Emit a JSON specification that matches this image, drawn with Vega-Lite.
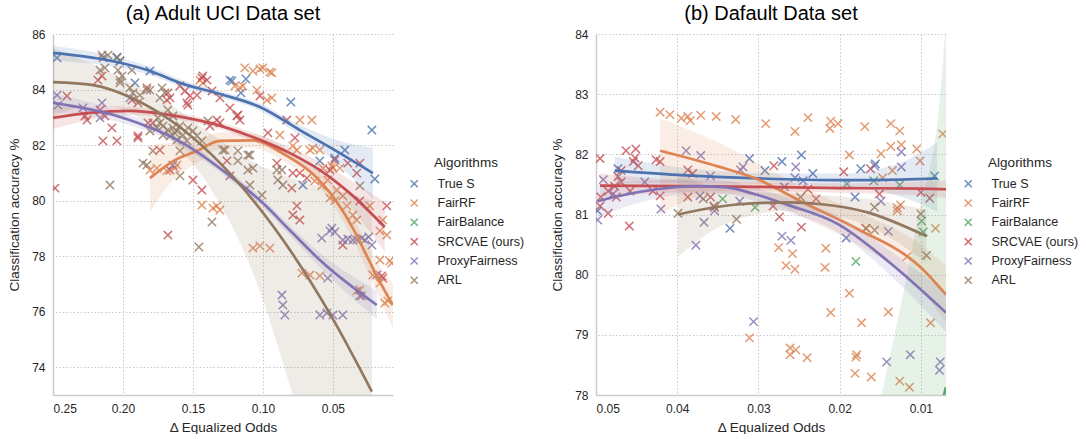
{
  "$schema": "https://vega.github.io/schema/vega-lite/v6.json",
  "padding": {"left": 7, "top": 4, "right": 0, "bottom": 0},
  "spacing": 25,
  "config": {
    "view": {"stroke": null},
    "font": "Liberation Sans",
    "axis": {"labelFont": "Liberation Sans", "labelFontSize": 12, "labelColor": "#262626", "titleFont": "Liberation Sans", "titleFontSize": 13.5, "titleFontWeight": "normal", "titleColor": "#262626", "ticks": false, "domainColor": "#cccccc", "domainWidth": 1.5, "gridColor": "#c8c8c8", "gridDash": [1.5, 2], "gridWidth": 1, "labelPadding": 8},
    "legend": {"labelFont": "Liberation Sans", "titleFont": "Liberation Sans", "labelFontSize": 12.5, "titleFontSize": 13.5, "titleFontWeight": "normal", "labelColor": "#262626", "titleColor": "#262626", "rowPadding": 5.3, "labelOffset": 17, "symbolSize": 50, "symbolStrokeWidth": 1.5, "titleAnchor": "middle", "titlePadding": 8},
    "title": {"font": "Liberation Sans", "fontSize": 20, "fontWeight": "normal", "color": "#000000", "anchor": "middle", "frame": "group", "offset": 4}
  },
  "resolve": {"legend": {"color": "independent"}, "scale": {"x": "independent", "y": "independent"}},
  "datasets": {
    "ptsA": [
      {"alg": "True S", "x": 0.2471, "y": 85.14}, {"alg": "True S", "x": 0.2043, "y": 85.17}, {"alg": "True S", "x": 0.2021, "y": 85.03}, {"alg": "True S", "x": 0.1914, "y": 84.24}, {"alg": "True S", "x": 0.1807, "y": 84.67}, {"alg": "True S", "x": 0.1236, "y": 84.34}, {"alg": "True S", "x": 0.1221, "y": 84.31}, {"alg": "True S", "x": 0.1121, "y": 84.38}, {"alg": "True S", "x": 0.1157, "y": 83.88}, {"alg": "True S", "x": 0.08, "y": 83.55}, {"alg": "True S", "x": 0.0221, "y": 82.54}, {"alg": "True S", "x": 0.0414, "y": 81.82}, {"alg": "True S", "x": 0.0486, "y": 81.53}, {"alg": "True S", "x": 0.02, "y": 80.78}, {"alg": "True S", "x": 0.0714, "y": 80.56}, {"alg": "True S", "x": 0.0593, "y": 81.43},
      {"alg": "FairRF", "x": 0.1129, "y": 84.78}, {"alg": "FairRF", "x": 0.1071, "y": 84.67}, {"alg": "FairRF", "x": 0.1021, "y": 84.74}, {"alg": "FairRF", "x": 0.1, "y": 84.78}, {"alg": "FairRF", "x": 0.095, "y": 84.63}, {"alg": "FairRF", "x": 0.0936, "y": 84.6}, {"alg": "FairRF", "x": 0.12, "y": 84.13}, {"alg": "FairRF", "x": 0.1164, "y": 84.06}, {"alg": "FairRF", "x": 0.1143, "y": 84.13}, {"alg": "FairRF", "x": 0.1043, "y": 83.98}, {"alg": "FairRF", "x": 0.0971, "y": 83.62}, {"alg": "FairRF", "x": 0.0936, "y": 83.7}, {"alg": "FairRF", "x": 0.0736, "y": 82.9}, {"alg": "FairRF", "x": 0.065, "y": 82.9}, {"alg": "FairRF", "x": 0.0879, "y": 82.36}, {"alg": "FairRF", "x": 0.0757, "y": 81.82}, {"alg": "FairRF", "x": 0.0664, "y": 81.82}, {"alg": "FairRF", "x": 0.0593, "y": 81.82}, {"alg": "FairRF", "x": 0.0507, "y": 81.25}, {"alg": "FairRF", "x": 0.045, "y": 81.17}, {"alg": "FairRF", "x": 0.0536, "y": 80.74}, {"alg": "FairRF", "x": 0.0471, "y": 80.38}, {"alg": "FairRF", "x": 0.0429, "y": 80.17}, {"alg": "FairRF", "x": 0.04, "y": 79.81}, {"alg": "FairRF", "x": 0.145, "y": 84.34}, {"alg": "FairRF", "x": 0.1429, "y": 84.24}, {"alg": "FairRF", "x": 0.1807, "y": 81.1}, {"alg": "FairRF", "x": 0.1757, "y": 81.17}, {"alg": "FairRF", "x": 0.1686, "y": 81.07}, {"alg": "FairRF", "x": 0.1629, "y": 81.17}, {"alg": "FairRF", "x": 0.1614, "y": 81.28}, {"alg": "FairRF", "x": 0.1436, "y": 79.84}, {"alg": "FairRF", "x": 0.1357, "y": 79.73}, {"alg": "FairRF", "x": 0.1329, "y": 79.81}, {"alg": "FairRF", "x": 0.1307, "y": 79.66}, {"alg": "FairRF", "x": 0.1071, "y": 78.29}, {"alg": "FairRF", "x": 0.1021, "y": 78.37}, {"alg": "FairRF", "x": 0.095, "y": 78.29}, {"alg": "FairRF", "x": 0.0721, "y": 77.39}, {"alg": "FairRF", "x": 0.0664, "y": 77.32}, {"alg": "FairRF", "x": 0.0593, "y": 77.29}, {"alg": "FairRF", "x": 0.0329, "y": 76.75}, {"alg": "FairRF", "x": 0.0293, "y": 76.57}, {"alg": "FairRF", "x": 0.0143, "y": 79.3}, {"alg": "FairRF", "x": 0.0164, "y": 78.91}, {"alg": "FairRF", "x": 0.0114, "y": 78.76}, {"alg": "FairRF", "x": 0.0079, "y": 77.75}, {"alg": "FairRF", "x": 0.0214, "y": 77.32}, {"alg": "FairRF", "x": 0.0164, "y": 77.03}, {"alg": "FairRF", "x": 0.0129, "y": 76.31}, {"alg": "FairRF", "x": 0.0107, "y": 76.39}, {"alg": "FairRF", "x": 0.0236, "y": 79.81}, {"alg": "FairRF", "x": 0.0786, "y": 81.97}, {"alg": "FairRF", "x": 0.0643, "y": 81.89}, {"alg": "FairRF", "x": 0.0571, "y": 81.17}, {"alg": "FairRF", "x": 0.05, "y": 81.17}, {"alg": "FairRF", "x": 0.0629, "y": 80.71}, {"alg": "FairRF", "x": 0.0579, "y": 80.53}, {"alg": "FairRF", "x": 0.0521, "y": 80.09}, {"alg": "FairRF", "x": 0.0486, "y": 79.99}, {"alg": "FairRF", "x": 0.0357, "y": 79.48}, {"alg": "FairRF", "x": 0.0329, "y": 79.3}, {"alg": "FairRF", "x": 0.0164, "y": 77.86}, {"alg": "FairRF", "x": 0.0093, "y": 77.83}, {"alg": "FairRF", "x": 0.0307, "y": 76.78},
      {"alg": "SRCVAE (ours)", "x": 0.2486, "y": 80.45}, {"alg": "SRCVAE (ours)", "x": 0.1679, "y": 78.76}, {"alg": "SRCVAE (ours)", "x": 0.24, "y": 83.77}, {"alg": "SRCVAE (ours)", "x": 0.2271, "y": 83.05}, {"alg": "SRCVAE (ours)", "x": 0.2257, "y": 82.9}, {"alg": "SRCVAE (ours)", "x": 0.2164, "y": 83.26}, {"alg": "SRCVAE (ours)", "x": 0.2179, "y": 84.34}, {"alg": "SRCVAE (ours)", "x": 0.215, "y": 84.49}, {"alg": "SRCVAE (ours)", "x": 0.2143, "y": 82.15}, {"alg": "SRCVAE (ours)", "x": 0.2079, "y": 82.62}, {"alg": "SRCVAE (ours)", "x": 0.2043, "y": 82.15}, {"alg": "SRCVAE (ours)", "x": 0.2129, "y": 83.05}, {"alg": "SRCVAE (ours)", "x": 0.1936, "y": 83.62}, {"alg": "SRCVAE (ours)", "x": 0.1893, "y": 83.52}, {"alg": "SRCVAE (ours)", "x": 0.1821, "y": 82.8}, {"alg": "SRCVAE (ours)", "x": 0.1686, "y": 83.62}, {"alg": "SRCVAE (ours)", "x": 0.1679, "y": 83.88}, {"alg": "SRCVAE (ours)", "x": 0.1543, "y": 83.52}, {"alg": "SRCVAE (ours)", "x": 0.1521, "y": 83.77}, {"alg": "SRCVAE (ours)", "x": 0.1471, "y": 83.8}, {"alg": "SRCVAE (ours)", "x": 0.1436, "y": 84.42}, {"alg": "SRCVAE (ours)", "x": 0.1429, "y": 84.49}, {"alg": "SRCVAE (ours)", "x": 0.14, "y": 84.34}, {"alg": "SRCVAE (ours)", "x": 0.1593, "y": 84.13}, {"alg": "SRCVAE (ours)", "x": 0.1893, "y": 82.33}, {"alg": "SRCVAE (ours)", "x": 0.1829, "y": 84.06}, {"alg": "SRCVAE (ours)", "x": 0.1736, "y": 81.82}, {"alg": "SRCVAE (ours)", "x": 0.1786, "y": 82.8}, {"alg": "SRCVAE (ours)", "x": 0.15, "y": 80.74}, {"alg": "SRCVAE (ours)", "x": 0.1436, "y": 80.38}, {"alg": "SRCVAE (ours)", "x": 0.1329, "y": 82.9}, {"alg": "SRCVAE (ours)", "x": 0.1307, "y": 82.8}, {"alg": "SRCVAE (ours)", "x": 0.1664, "y": 83.7}, {"alg": "SRCVAE (ours)", "x": 0.1557, "y": 83.95}, {"alg": "SRCVAE (ours)", "x": 0.1536, "y": 83.44}, {"alg": "SRCVAE (ours)", "x": 0.1364, "y": 83.95}, {"alg": "SRCVAE (ours)", "x": 0.1307, "y": 83.7}, {"alg": "SRCVAE (ours)", "x": 0.1186, "y": 83.05}, {"alg": "SRCVAE (ours)", "x": 0.1893, "y": 82.26}, {"alg": "SRCVAE (ours)", "x": 0.1664, "y": 81.1}, {"alg": "SRCVAE (ours)", "x": 0.1379, "y": 82.69}, {"alg": "SRCVAE (ours)", "x": 0.1236, "y": 83.34}, {"alg": "SRCVAE (ours)", "x": 0.1179, "y": 83.08}, {"alg": "SRCVAE (ours)", "x": 0.1164, "y": 82.9}, {"alg": "SRCVAE (ours)", "x": 0.1021, "y": 83.77}, {"alg": "SRCVAE (ours)", "x": 0.0964, "y": 82.44}, {"alg": "SRCVAE (ours)", "x": 0.0829, "y": 82.9}, {"alg": "SRCVAE (ours)", "x": 0.0771, "y": 82.26}, {"alg": "SRCVAE (ours)", "x": 0.09, "y": 81.35}, {"alg": "SRCVAE (ours)", "x": 0.0786, "y": 80.99}, {"alg": "SRCVAE (ours)", "x": 0.0736, "y": 80.99}, {"alg": "SRCVAE (ours)", "x": 0.0793, "y": 80.45}, {"alg": "SRCVAE (ours)", "x": 0.0686, "y": 80.81}, {"alg": "SRCVAE (ours)", "x": 0.0521, "y": 81.1}, {"alg": "SRCVAE (ours)", "x": 0.0486, "y": 81.46}, {"alg": "SRCVAE (ours)", "x": 0.0393, "y": 81.35}, {"alg": "SRCVAE (ours)", "x": 0.0329, "y": 80.99}, {"alg": "SRCVAE (ours)", "x": 0.0307, "y": 81.35}, {"alg": "SRCVAE (ours)", "x": 0.0307, "y": 79.99}, {"alg": "SRCVAE (ours)", "x": 0.0114, "y": 79.81}, {"alg": "SRCVAE (ours)", "x": 0.1257, "y": 81.43}, {"alg": "SRCVAE (ours)", "x": 0.1236, "y": 80.89}, {"alg": "SRCVAE (ours)", "x": 0.0757, "y": 79.81}, {"alg": "SRCVAE (ours)", "x": 0.0786, "y": 79.48}, {"alg": "SRCVAE (ours)", "x": 0.0736, "y": 79.3}, {"alg": "SRCVAE (ours)", "x": 0.0429, "y": 78.4}, {"alg": "SRCVAE (ours)", "x": 0.015, "y": 77.29}, {"alg": "SRCVAE (ours)", "x": 0.0143, "y": 77.21},
      {"alg": "ProxyFairness", "x": 0.2471, "y": 83.8}, {"alg": "ProxyFairness", "x": 0.2464, "y": 83.44}, {"alg": "ProxyFairness", "x": 0.2286, "y": 83.34}, {"alg": "ProxyFairness", "x": 0.215, "y": 83.52}, {"alg": "ProxyFairness", "x": 0.2164, "y": 82.98}, {"alg": "ProxyFairness", "x": 0.195, "y": 83.7}, {"alg": "ProxyFairness", "x": 0.1643, "y": 81.28}, {"alg": "ProxyFairness", "x": 0.0521, "y": 78.91}, {"alg": "ProxyFairness", "x": 0.0486, "y": 78.87}, {"alg": "ProxyFairness", "x": 0.0507, "y": 79.01}, {"alg": "ProxyFairness", "x": 0.0429, "y": 78.58}, {"alg": "ProxyFairness", "x": 0.0393, "y": 78.62}, {"alg": "ProxyFairness", "x": 0.0357, "y": 78.58}, {"alg": "ProxyFairness", "x": 0.0329, "y": 78.58}, {"alg": "ProxyFairness", "x": 0.0293, "y": 78.65}, {"alg": "ProxyFairness", "x": 0.0271, "y": 78.58}, {"alg": "ProxyFairness", "x": 0.0243, "y": 78.69}, {"alg": "ProxyFairness", "x": 0.0221, "y": 78.4}, {"alg": "ProxyFairness", "x": 0.0579, "y": 78.65}, {"alg": "ProxyFairness", "x": 0.0536, "y": 77.21}, {"alg": "ProxyFairness", "x": 0.0186, "y": 77.32}, {"alg": "ProxyFairness", "x": 0.0307, "y": 76.57}, {"alg": "ProxyFairness", "x": 0.0864, "y": 76.6}, {"alg": "ProxyFairness", "x": 0.0857, "y": 76.24}, {"alg": "ProxyFairness", "x": 0.0843, "y": 75.88}, {"alg": "ProxyFairness", "x": 0.0593, "y": 75.88}, {"alg": "ProxyFairness", "x": 0.0543, "y": 75.95}, {"alg": "ProxyFairness", "x": 0.05, "y": 75.88}, {"alg": "ProxyFairness", "x": 0.0429, "y": 75.88},
      {"alg": "ARL", "x": 0.215, "y": 85.24}, {"alg": "ARL", "x": 0.2143, "y": 85.14}, {"alg": "ARL", "x": 0.2107, "y": 85.24}, {"alg": "ARL", "x": 0.2043, "y": 85.14}, {"alg": "ARL", "x": 0.2021, "y": 85.03}, {"alg": "ARL", "x": 0.2036, "y": 84.7}, {"alg": "ARL", "x": 0.2007, "y": 84.49}, {"alg": "ARL", "x": 0.1936, "y": 84.7}, {"alg": "ARL", "x": 0.2021, "y": 84.24}, {"alg": "ARL", "x": 0.2093, "y": 80.56}, {"alg": "ARL", "x": 0.1879, "y": 83.8}, {"alg": "ARL", "x": 0.1807, "y": 83.98}, {"alg": "ARL", "x": 0.1736, "y": 83.7}, {"alg": "ARL", "x": 0.17, "y": 83.88}, {"alg": "ARL", "x": 0.2129, "y": 84.78}, {"alg": "ARL", "x": 0.2164, "y": 84.7}, {"alg": "ARL", "x": 0.2021, "y": 84.34}, {"alg": "ARL", "x": 0.195, "y": 84.06}, {"alg": "ARL", "x": 0.1829, "y": 81.28}, {"alg": "ARL", "x": 0.1593, "y": 80.89}, {"alg": "ARL", "x": 0.1286, "y": 81.82}, {"alg": "ARL", "x": 0.175, "y": 82.98}, {"alg": "ARL", "x": 0.1714, "y": 82.69}, {"alg": "ARL", "x": 0.1679, "y": 82.54}, {"alg": "ARL", "x": 0.1643, "y": 82.62}, {"alg": "ARL", "x": 0.1614, "y": 82.51}, {"alg": "ARL", "x": 0.1593, "y": 82.69}, {"alg": "ARL", "x": 0.1571, "y": 82.36}, {"alg": "ARL", "x": 0.1664, "y": 82.33}, {"alg": "ARL", "x": 0.1714, "y": 82.36}, {"alg": "ARL", "x": 0.1536, "y": 82.62}, {"alg": "ARL", "x": 0.15, "y": 82.51}, {"alg": "ARL", "x": 0.1471, "y": 82.33}, {"alg": "ARL", "x": 0.1614, "y": 82.18}, {"alg": "ARL", "x": 0.1543, "y": 82.15}, {"alg": "ARL", "x": 0.1436, "y": 82.15}, {"alg": "ARL", "x": 0.1757, "y": 82.62}, {"alg": "ARL", "x": 0.1807, "y": 82.51}, {"alg": "ARL", "x": 0.1786, "y": 81.79}, {"alg": "ARL", "x": 0.1857, "y": 81.35}, {"alg": "ARL", "x": 0.1593, "y": 81.79}, {"alg": "ARL", "x": 0.1179, "y": 81.79}, {"alg": "ARL", "x": 0.1107, "y": 81.64}, {"alg": "ARL", "x": 0.1929, "y": 83.88}, {"alg": "ARL", "x": 0.1829, "y": 83.98}, {"alg": "ARL", "x": 0.1721, "y": 84.06}, {"alg": "ARL", "x": 0.1643, "y": 83.05}, {"alg": "ARL", "x": 0.1679, "y": 83.26}, {"alg": "ARL", "x": 0.1393, "y": 82.87}, {"alg": "ARL", "x": 0.1271, "y": 81.82}, {"alg": "ARL", "x": 0.1093, "y": 81.64}, {"alg": "ARL", "x": 0.1179, "y": 81.43}, {"alg": "ARL", "x": 0.1071, "y": 81.17}, {"alg": "ARL", "x": 0.1093, "y": 80.56}, {"alg": "ARL", "x": 0.09, "y": 81.1}, {"alg": "ARL", "x": 0.0893, "y": 80.74}, {"alg": "ARL", "x": 0.1007, "y": 80.2}, {"alg": "ARL", "x": 0.0307, "y": 80.53}, {"alg": "ARL", "x": 0.1107, "y": 81.1}, {"alg": "ARL", "x": 0.0864, "y": 81.1}, {"alg": "ARL", "x": 0.0857, "y": 80.56}, {"alg": "ARL", "x": 0.1364, "y": 79.23}, {"alg": "ARL", "x": 0.1457, "y": 78.33}, {"alg": "ARL", "x": 0.1736, "y": 82.8}, {"alg": "ARL", "x": 0.1629, "y": 82.44}
    ],
    "fitA": [
      {"alg": "True S", "x": 0.25, "y": 85.32, "lo": 85.05, "hi": 85.58}, {"alg": "True S", "x": 0.2043, "y": 84.99, "lo": 84.8, "hi": 85.17}, {"alg": "True S", "x": 0.1807, "y": 84.67, "lo": 84.52, "hi": 84.82}, {"alg": "True S", "x": 0.1593, "y": 84.24, "lo": 84.11, "hi": 84.37}, {"alg": "True S", "x": 0.1307, "y": 83.84, "lo": 83.72, "hi": 83.96}, {"alg": "True S", "x": 0.1021, "y": 83.37, "lo": 83.24, "hi": 83.5}, {"alg": "True S", "x": 0.0736, "y": 82.54, "lo": 82.35, "hi": 82.73}, {"alg": "True S", "x": 0.045, "y": 81.71, "lo": 81.25, "hi": 82.15}, {"alg": "True S", "x": 0.0214, "y": 80.99, "lo": 80.05, "hi": 81.9},
      {"alg": "FairRF", "x": 0.1807, "y": 80.81, "lo": 79.6, "hi": 82.0}, {"alg": "FairRF", "x": 0.1629, "y": 81.46, "lo": 80.8, "hi": 82.1}, {"alg": "FairRF", "x": 0.1471, "y": 81.79, "lo": 81.35, "hi": 82.2}, {"alg": "FairRF", "x": 0.1307, "y": 82.15, "lo": 81.85, "hi": 82.45}, {"alg": "FairRF", "x": 0.1071, "y": 82.17, "lo": 81.9, "hi": 82.42}, {"alg": "FairRF", "x": 0.0829, "y": 81.61, "lo": 81.35, "hi": 81.87}, {"alg": "FairRF", "x": 0.0643, "y": 80.96, "lo": 80.7, "hi": 81.22}, {"alg": "FairRF", "x": 0.0471, "y": 79.95, "lo": 79.62, "hi": 80.28}, {"alg": "FairRF", "x": 0.0357, "y": 79.01, "lo": 78.6, "hi": 79.4}, {"alg": "FairRF", "x": 0.0257, "y": 78.01, "lo": 77.5, "hi": 78.5}, {"alg": "FairRF", "x": 0.0164, "y": 77.07, "lo": 76.45, "hi": 77.65}, {"alg": "FairRF", "x": 0.0071, "y": 76.24, "lo": 75.4, "hi": 77.0},
      {"alg": "SRCVAE (ours)", "x": 0.25, "y": 82.98, "lo": 82.58, "hi": 83.38}, {"alg": "SRCVAE (ours)", "x": 0.2236, "y": 83.16, "lo": 82.9, "hi": 83.42}, {"alg": "SRCVAE (ours)", "x": 0.195, "y": 83.23, "lo": 83.08, "hi": 83.38}, {"alg": "SRCVAE (ours)", "x": 0.1664, "y": 83.08, "lo": 82.96, "hi": 83.2}, {"alg": "SRCVAE (ours)", "x": 0.1379, "y": 82.8, "lo": 82.68, "hi": 82.92}, {"alg": "SRCVAE (ours)", "x": 0.1093, "y": 82.33, "lo": 82.18, "hi": 82.48}, {"alg": "SRCVAE (ours)", "x": 0.0807, "y": 81.71, "lo": 81.5, "hi": 81.92}, {"alg": "SRCVAE (ours)", "x": 0.0593, "y": 81.1, "lo": 80.8, "hi": 81.4}, {"alg": "SRCVAE (ours)", "x": 0.0379, "y": 80.27, "lo": 79.78, "hi": 80.76}, {"alg": "SRCVAE (ours)", "x": 0.0129, "y": 79.05, "lo": 78.15, "hi": 79.95},
      {"alg": "ProxyFairness", "x": 0.25, "y": 83.52, "lo": 83.17, "hi": 83.87}, {"alg": "ProxyFairness", "x": 0.2043, "y": 83.05, "lo": 82.85, "hi": 83.25}, {"alg": "ProxyFairness", "x": 0.1571, "y": 82.07, "lo": 81.92, "hi": 82.22}, {"alg": "ProxyFairness", "x": 0.1236, "y": 80.89, "lo": 80.74, "hi": 81.04}, {"alg": "ProxyFairness", "x": 0.1, "y": 79.91, "lo": 79.75, "hi": 80.07}, {"alg": "ProxyFairness", "x": 0.0807, "y": 78.93, "lo": 78.75, "hi": 79.11}, {"alg": "ProxyFairness", "x": 0.0593, "y": 77.86, "lo": 77.6, "hi": 78.12}, {"alg": "ProxyFairness", "x": 0.0186, "y": 76.24, "lo": 75.72, "hi": 76.76},
      {"alg": "ARL", "x": 0.25, "y": 84.27, "lo": 83.0, "hi": 85.5}, {"alg": "ARL", "x": 0.2214, "y": 84.16, "lo": 83.45, "hi": 84.9}, {"alg": "ARL", "x": 0.1929, "y": 83.68, "lo": 83.1, "hi": 84.2}, {"alg": "ARL", "x": 0.1643, "y": 82.83, "lo": 82.1, "hi": 83.4}, {"alg": "ARL", "x": 0.1357, "y": 81.61, "lo": 80.3, "hi": 82.35}, {"alg": "ARL", "x": 0.1071, "y": 80.02, "lo": 77.4, "hi": 81.4}, {"alg": "ARL", "x": 0.0786, "y": 78.07, "lo": 73.0, "hi": 80.8}, {"alg": "ARL", "x": 0.05, "y": 75.74, "lo": 68.0, "hi": 80.4}, {"alg": "ARL", "x": 0.0221, "y": 73.12, "lo": 64.0, "hi": 80.0}
    ],
    "ptsB": [
      {"alg": "True S", "x": 0.0473, "y": 81.76}, {"alg": "True S", "x": 0.0311, "y": 81.93}, {"alg": "True S", "x": 0.0292, "y": 81.73}, {"alg": "True S", "x": 0.0271, "y": 81.88}, {"alg": "True S", "x": 0.0247, "y": 81.99}, {"alg": "True S", "x": 0.0233, "y": 81.68}, {"alg": "True S", "x": 0.0174, "y": 81.76}, {"alg": "True S", "x": 0.0156, "y": 81.84}, {"alg": "True S", "x": 0.0083, "y": 81.64}, {"alg": "True S", "x": 0.0181, "y": 81.29}, {"alg": "True S", "x": 0.0335, "y": 80.77}, {"alg": "True S", "x": 0.0192, "y": 80.61}, {"alg": "True S", "x": 0.0498, "y": 81.06},
      {"alg": "FairRF", "x": 0.0421, "y": 82.7}, {"alg": "FairRF", "x": 0.0409, "y": 82.66}, {"alg": "FairRF", "x": 0.0395, "y": 82.6}, {"alg": "FairRF", "x": 0.0387, "y": 82.63}, {"alg": "FairRF", "x": 0.0384, "y": 82.56}, {"alg": "FairRF", "x": 0.0371, "y": 82.65}, {"alg": "FairRF", "x": 0.0352, "y": 82.63}, {"alg": "FairRF", "x": 0.0328, "y": 82.58}, {"alg": "FairRF", "x": 0.0291, "y": 82.51}, {"alg": "FairRF", "x": 0.0255, "y": 82.38}, {"alg": "FairRF", "x": 0.0239, "y": 82.61}, {"alg": "FairRF", "x": 0.0211, "y": 82.55}, {"alg": "FairRF", "x": 0.0202, "y": 82.51}, {"alg": "FairRF", "x": 0.0212, "y": 82.43}, {"alg": "FairRF", "x": 0.0169, "y": 82.46}, {"alg": "FairRF", "x": 0.0137, "y": 82.51}, {"alg": "FairRF", "x": 0.0126, "y": 82.39}, {"alg": "FairRF", "x": 0.0137, "y": 82.13}, {"alg": "FairRF", "x": 0.0124, "y": 82.16}, {"alg": "FairRF", "x": 0.0105, "y": 82.09}, {"alg": "FairRF", "x": 0.0101, "y": 81.89}, {"alg": "FairRF", "x": 0.0188, "y": 81.99}, {"alg": "FairRF", "x": 0.0149, "y": 82.01}, {"alg": "FairRF", "x": 0.0135, "y": 81.73}, {"alg": "FairRF", "x": 0.0147, "y": 81.61}, {"alg": "FairRF", "x": 0.0073, "y": 82.34}, {"alg": "FairRF", "x": 0.0125, "y": 81.16}, {"alg": "FairRF", "x": 0.0129, "y": 81.06}, {"alg": "FairRF", "x": 0.0311, "y": 78.95}, {"alg": "FairRF", "x": 0.0275, "y": 80.45}, {"alg": "FairRF", "x": 0.0258, "y": 80.35}, {"alg": "FairRF", "x": 0.0217, "y": 80.44}, {"alg": "FairRF", "x": 0.0266, "y": 80.15}, {"alg": "FairRF", "x": 0.0255, "y": 80.09}, {"alg": "FairRF", "x": 0.0218, "y": 80.12}, {"alg": "FairRF", "x": 0.0167, "y": 80.77}, {"alg": "FairRF", "x": 0.0117, "y": 80.3}, {"alg": "FairRF", "x": 0.0082, "y": 80.77}, {"alg": "FairRF", "x": 0.0188, "y": 79.69}, {"alg": "FairRF", "x": 0.0211, "y": 79.37}, {"alg": "FairRF", "x": 0.014, "y": 79.38}, {"alg": "FairRF", "x": 0.0173, "y": 79.2}, {"alg": "FairRF", "x": 0.0088, "y": 79.2}, {"alg": "FairRF", "x": 0.0261, "y": 78.78}, {"alg": "FairRF", "x": 0.0254, "y": 78.75}, {"alg": "FairRF", "x": 0.0261, "y": 78.67}, {"alg": "FairRF", "x": 0.024, "y": 78.62}, {"alg": "FairRF", "x": 0.018, "y": 78.63}, {"alg": "FairRF", "x": 0.0179, "y": 78.67}, {"alg": "FairRF", "x": 0.0181, "y": 78.36}, {"alg": "FairRF", "x": 0.0161, "y": 78.3}, {"alg": "FairRF", "x": 0.0126, "y": 78.23}, {"alg": "FairRF", "x": 0.0114, "y": 78.13}, {"alg": "FairRF", "x": 0.0129, "y": 81.11},
      {"alg": "FairBalance", "x": 0.0344, "y": 81.26}, {"alg": "FairBalance", "x": 0.0304, "y": 81.12}, {"alg": "FairBalance", "x": 0.0191, "y": 81.51}, {"alg": "FairBalance", "x": 0.0158, "y": 81.56}, {"alg": "FairBalance", "x": 0.0126, "y": 81.49}, {"alg": "FairBalance", "x": 0.018, "y": 80.22}, {"alg": "FairBalance", "x": 0.0099, "y": 80.89}, {"alg": "FairBalance", "x": 0.0097, "y": 80.71},
      {"alg": "SRCVAE (ours)", "x": 0.0495, "y": 81.93}, {"alg": "SRCVAE (ours)", "x": 0.0463, "y": 82.06}, {"alg": "SRCVAE (ours)", "x": 0.0451, "y": 82.09}, {"alg": "SRCVAE (ours)", "x": 0.0452, "y": 81.94}, {"alg": "SRCVAE (ours)", "x": 0.0454, "y": 81.88}, {"alg": "SRCVAE (ours)", "x": 0.0448, "y": 81.81}, {"alg": "SRCVAE (ours)", "x": 0.0469, "y": 81.73}, {"alg": "SRCVAE (ours)", "x": 0.0473, "y": 81.63}, {"alg": "SRCVAE (ours)", "x": 0.0485, "y": 81.39}, {"alg": "SRCVAE (ours)", "x": 0.0477, "y": 81.47}, {"alg": "SRCVAE (ours)", "x": 0.0469, "y": 81.54}, {"alg": "SRCVAE (ours)", "x": 0.0458, "y": 81.39}, {"alg": "SRCVAE (ours)", "x": 0.0494, "y": 81.29}, {"alg": "SRCVAE (ours)", "x": 0.0475, "y": 81.29}, {"alg": "SRCVAE (ours)", "x": 0.0426, "y": 81.91}, {"alg": "SRCVAE (ours)", "x": 0.0421, "y": 81.88}, {"alg": "SRCVAE (ours)", "x": 0.043, "y": 81.39}, {"alg": "SRCVAE (ours)", "x": 0.0421, "y": 81.31}, {"alg": "SRCVAE (ours)", "x": 0.0387, "y": 81.74}, {"alg": "SRCVAE (ours)", "x": 0.0381, "y": 81.68}, {"alg": "SRCVAE (ours)", "x": 0.0387, "y": 81.29}, {"alg": "SRCVAE (ours)", "x": 0.0359, "y": 81.29}, {"alg": "SRCVAE (ours)", "x": 0.0354, "y": 81.12}, {"alg": "SRCVAE (ours)", "x": 0.0495, "y": 81.14}, {"alg": "SRCVAE (ours)", "x": 0.0485, "y": 81.02}, {"alg": "SRCVAE (ours)", "x": 0.0459, "y": 80.81}, {"alg": "SRCVAE (ours)", "x": 0.0281, "y": 81.81}, {"alg": "SRCVAE (ours)", "x": 0.0195, "y": 81.71}, {"alg": "SRCVAE (ours)", "x": 0.0162, "y": 81.76}, {"alg": "SRCVAE (ours)", "x": 0.0151, "y": 81.34}, {"alg": "SRCVAE (ours)", "x": 0.01, "y": 81.37}, {"alg": "SRCVAE (ours)", "x": 0.0089, "y": 81.27}, {"alg": "SRCVAE (ours)", "x": 0.0239, "y": 81.42}, {"alg": "SRCVAE (ours)", "x": 0.0229, "y": 81.26}, {"alg": "SRCVAE (ours)", "x": 0.0282, "y": 81.14}, {"alg": "SRCVAE (ours)", "x": 0.0274, "y": 80.96}, {"alg": "SRCVAE (ours)", "x": 0.0247, "y": 80.79},
      {"alg": "ProxyFairness", "x": 0.0491, "y": 81.58}, {"alg": "ProxyFairness", "x": 0.044, "y": 81.54}, {"alg": "ProxyFairness", "x": 0.0389, "y": 82.06}, {"alg": "ProxyFairness", "x": 0.0371, "y": 81.98}, {"alg": "ProxyFairness", "x": 0.0322, "y": 81.74}, {"alg": "ProxyFairness", "x": 0.0319, "y": 81.79}, {"alg": "ProxyFairness", "x": 0.0359, "y": 81.64}, {"alg": "ProxyFairness", "x": 0.0372, "y": 81.31}, {"alg": "ProxyFairness", "x": 0.0323, "y": 81.22}, {"alg": "ProxyFairness", "x": 0.042, "y": 81.09}, {"alg": "ProxyFairness", "x": 0.0479, "y": 81.34}, {"alg": "ProxyFairness", "x": 0.0498, "y": 80.91}, {"alg": "ProxyFairness", "x": 0.0367, "y": 80.87}, {"alg": "ProxyFairness", "x": 0.0354, "y": 81.06}, {"alg": "ProxyFairness", "x": 0.0377, "y": 80.49}, {"alg": "ProxyFairness", "x": 0.0306, "y": 79.22}, {"alg": "ProxyFairness", "x": 0.0254, "y": 81.79}, {"alg": "ProxyFairness", "x": 0.0255, "y": 81.61}, {"alg": "ProxyFairness", "x": 0.0268, "y": 81.46}, {"alg": "ProxyFairness", "x": 0.0245, "y": 81.56}, {"alg": "ProxyFairness", "x": 0.0157, "y": 81.81}, {"alg": "ProxyFairness", "x": 0.0124, "y": 82.04}, {"alg": "ProxyFairness", "x": 0.0124, "y": 81.79}, {"alg": "ProxyFairness", "x": 0.0149, "y": 81.22}, {"alg": "ProxyFairness", "x": 0.0271, "y": 80.64}, {"alg": "ProxyFairness", "x": 0.026, "y": 80.57}, {"alg": "ProxyFairness", "x": 0.014, "y": 80.72}, {"alg": "ProxyFairness", "x": 0.0142, "y": 78.55}, {"alg": "ProxyFairness", "x": 0.0113, "y": 78.67}, {"alg": "ProxyFairness", "x": 0.0077, "y": 78.41}, {"alg": "ProxyFairness", "x": 0.0076, "y": 78.55},
      {"alg": "ARL", "x": 0.0368, "y": 81.26}, {"alg": "ARL", "x": 0.0248, "y": 81.29}, {"alg": "ARL", "x": 0.0157, "y": 81.12}, {"alg": "ARL", "x": 0.0399, "y": 81.02}, {"alg": "ARL", "x": 0.0327, "y": 80.92}, {"alg": "ARL", "x": 0.0355, "y": 81.14}, {"alg": "ARL", "x": 0.0168, "y": 80.77}, {"alg": "ARL", "x": 0.0157, "y": 80.74}, {"alg": "ARL", "x": 0.01, "y": 81.01}, {"alg": "ARL", "x": 0.0093, "y": 80.32}
    ],
    "fitB": [
      {"alg": "True S", "x": 0.0477, "y": 81.73, "lo": 81.52, "hi": 81.96}, {"alg": "True S", "x": 0.04, "y": 81.66, "lo": 81.53, "hi": 81.79}, {"alg": "True S", "x": 0.03, "y": 81.6, "lo": 81.51, "hi": 81.69}, {"alg": "True S", "x": 0.02, "y": 81.57, "lo": 81.46, "hi": 81.68}, {"alg": "True S", "x": 0.0125, "y": 81.58, "lo": 81.3, "hi": 81.86}, {"alg": "True S", "x": 0.008, "y": 81.6, "lo": 81.05, "hi": 82.2},
      {"alg": "FairRF", "x": 0.0421, "y": 82.06, "lo": 81.0, "hi": 82.6}, {"alg": "FairRF", "x": 0.035, "y": 81.8, "lo": 81.35, "hi": 82.2}, {"alg": "FairRF", "x": 0.03, "y": 81.58, "lo": 81.3, "hi": 81.85}, {"alg": "FairRF", "x": 0.0245, "y": 81.2, "lo": 80.95, "hi": 81.45}, {"alg": "FairRF", "x": 0.0178, "y": 80.76, "lo": 80.5, "hi": 81.05}, {"alg": "FairRF", "x": 0.01, "y": 80.12, "lo": 79.75, "hi": 80.5}, {"alg": "FairRF", "x": 0.0069, "y": 79.67, "lo": 79.2, "hi": 80.15},
      {"alg": "FairBalance", "x": 0.0149, "y": 72.0, "lo": 66.0, "hi": 77.97}, {"alg": "FairBalance", "x": 0.012, "y": 74.0, "lo": 68.0, "hi": 79.79}, {"alg": "FairBalance", "x": 0.01, "y": 75.6, "lo": 69.0, "hi": 81.17}, {"alg": "FairBalance", "x": 0.00916, "y": 76.2, "lo": 70.0, "hi": 81.63}, {"alg": "FairBalance", "x": 0.0083, "y": 76.9, "lo": 71.0, "hi": 82.18}, {"alg": "FairBalance", "x": 0.0073, "y": 77.9, "lo": 72.0, "hi": 83.5}, {"alg": "FairBalance", "x": 0.0069, "y": 78.13, "lo": 72.5, "hi": 84.3},
      {"alg": "SRCVAE (ours)", "x": 0.0495, "y": 81.48, "lo": 81.28, "hi": 81.68}, {"alg": "SRCVAE (ours)", "x": 0.04, "y": 81.47, "lo": 81.37, "hi": 81.57}, {"alg": "SRCVAE (ours)", "x": 0.03, "y": 81.46, "lo": 81.39, "hi": 81.53}, {"alg": "SRCVAE (ours)", "x": 0.02, "y": 81.44, "lo": 81.36, "hi": 81.52}, {"alg": "SRCVAE (ours)", "x": 0.01, "y": 81.43, "lo": 81.31, "hi": 81.55}, {"alg": "SRCVAE (ours)", "x": 0.0069, "y": 81.42, "lo": 81.27, "hi": 81.57},
      {"alg": "ProxyFairness", "x": 0.0498, "y": 81.22, "lo": 80.95, "hi": 81.5}, {"alg": "ProxyFairness", "x": 0.046, "y": 81.34, "lo": 81.14, "hi": 81.54}, {"alg": "ProxyFairness", "x": 0.0425, "y": 81.42, "lo": 81.27, "hi": 81.57}, {"alg": "ProxyFairness", "x": 0.0377, "y": 81.47, "lo": 81.35, "hi": 81.59}, {"alg": "ProxyFairness", "x": 0.034, "y": 81.45, "lo": 81.34, "hi": 81.56}, {"alg": "ProxyFairness", "x": 0.0305, "y": 81.34, "lo": 81.23, "hi": 81.45}, {"alg": "ProxyFairness", "x": 0.0264, "y": 81.16, "lo": 81.04, "hi": 81.28}, {"alg": "ProxyFairness", "x": 0.0202, "y": 80.84, "lo": 80.7, "hi": 80.98}, {"alg": "ProxyFairness", "x": 0.014, "y": 80.22, "lo": 80.02, "hi": 80.42}, {"alg": "ProxyFairness", "x": 0.0069, "y": 79.37, "lo": 79.05, "hi": 79.7},
      {"alg": "ARL", "x": 0.0399, "y": 81.0, "lo": 80.3, "hi": 81.7}, {"alg": "ARL", "x": 0.0354, "y": 81.12, "lo": 80.75, "hi": 81.45}, {"alg": "ARL", "x": 0.0313, "y": 81.18, "lo": 80.97, "hi": 81.38}, {"alg": "ARL", "x": 0.0264, "y": 81.2, "lo": 81.06, "hi": 81.35}, {"alg": "ARL", "x": 0.0222, "y": 81.17, "lo": 81.02, "hi": 81.32}, {"alg": "ARL", "x": 0.0167, "y": 81.04, "lo": 80.82, "hi": 81.26}, {"alg": "ARL", "x": 0.0093, "y": 80.64, "lo": 80.2, "hi": 81.08}
    ]
  },
  "hconcat": [
    {
      "width": 340, "height": 361,
      "title": "(a) Adult UCI Data set",
      "layer": [
        {
          "data": {"name": "ptsA"},
          "mark": {"type": "point", "shape": "M-1,-1L1,1M1,-1L-1,1", "filled": false, "strokeWidth": 1.5, "size": 70, "opacity": 0.8, "clip": true},
          "encoding": {
            "x": {"field": "x", "type": "quantitative", "title": "Δ Equalized Odds", "scale": {"domain": [0.007, 0.25], "reverse": true, "nice": false, "zero": false}, "axis": {"values": [0.25, 0.2, 0.15, 0.1, 0.05], "format": ".2f", "titlePadding": 6}},
            "y": {"field": "y", "type": "quantitative", "title": "Classification accuracy %", "scale": {"domain": [73, 86], "nice": false, "zero": false}, "axis": {"values": [74, 76, 78, 80, 82, 84, 86], "format": "d", "titlePadding": 10}},
            "color": {"field": "alg", "type": "nominal", "scale": {"domain": ["True S", "FairRF", "FairBalance", "SRCVAE (ours)", "ProxyFairness", "ARL"], "range": ["#4C72B0", "#DD8452", "#55A868", "#C44E52", "#8172B3", "#937860"]}, "legend": {"title": "Algorithms", "orient": "none", "legendX": 355, "legendY": 122, "symbolType": "M-1,-1L1,1M1,-1L-1,1", "symbolOpacity": 0.8}}
          }
        },
        {
          "data": {"name": "fitA"},
          "mark": {"type": "area", "opacity": 0.15, "interpolate": "monotone", "clip": true},
          "encoding": {
            "x": {"field": "x", "type": "quantitative", "title": "Δ Equalized Odds"},
            "y": {"field": "lo", "type": "quantitative", "stack": null, "title": "Classification accuracy %"},
            "y2": {"field": "hi"},
            "color": {"field": "alg", "type": "nominal", "legend": null}
          }
        },
        {
          "data": {"name": "fitA"},
          "mark": {"type": "line", "strokeWidth": 2.7, "interpolate": "monotone", "clip": true},
          "encoding": {
            "x": {"field": "x", "type": "quantitative", "title": "Δ Equalized Odds"},
            "y": {"field": "y", "type": "quantitative", "title": "Classification accuracy %"},
            "color": {"field": "alg", "type": "nominal", "legend": null}
          }
        }
      ]
    },
    {
      "width": 350, "height": 361,
      "title": "(b) Dafault Data set",
      "layer": [
        {
          "data": {"name": "ptsB"},
          "mark": {"type": "point", "shape": "M-1,-1L1,1M1,-1L-1,1", "filled": false, "strokeWidth": 1.5, "size": 70, "opacity": 0.8, "clip": true},
          "encoding": {
            "x": {"field": "x", "type": "quantitative", "title": "Δ Equalized Odds", "scale": {"domain": [0.0069, 0.05], "reverse": true, "nice": false, "zero": false}, "axis": {"values": [0.05, 0.04, 0.03, 0.02, 0.01], "format": ".2f", "titlePadding": 6}},
            "y": {"field": "y", "type": "quantitative", "title": "Classification accuracy %", "scale": {"domain": [78, 84], "nice": false, "zero": false}, "axis": {"values": [78, 79, 80, 81, 82, 83, 84], "format": "d", "titlePadding": 10}},
            "color": {"field": "alg", "type": "nominal", "scale": {"domain": ["True S", "FairRF", "FairBalance", "SRCVAE (ours)", "ProxyFairness", "ARL"], "range": ["#4C72B0", "#DD8452", "#55A868", "#C44E52", "#8172B3", "#937860"]}, "legend": {"title": "Algorithms", "orient": "none", "legendX": 366, "legendY": 122, "symbolType": "M-1,-1L1,1M1,-1L-1,1", "symbolOpacity": 0.8}}
          }
        },
        {
          "data": {"name": "fitB"},
          "mark": {"type": "area", "opacity": 0.15, "interpolate": "monotone", "clip": true},
          "encoding": {
            "x": {"field": "x", "type": "quantitative", "title": "Δ Equalized Odds"},
            "y": {"field": "lo", "type": "quantitative", "stack": null, "title": "Classification accuracy %"},
            "y2": {"field": "hi"},
            "color": {"field": "alg", "type": "nominal", "legend": null}
          }
        },
        {
          "data": {"name": "fitB"},
          "mark": {"type": "line", "strokeWidth": 2.7, "interpolate": "monotone", "clip": true},
          "encoding": {
            "x": {"field": "x", "type": "quantitative", "title": "Δ Equalized Odds"},
            "y": {"field": "y", "type": "quantitative", "title": "Classification accuracy %"},
            "color": {"field": "alg", "type": "nominal", "legend": null}
          }
        }
      ]
    }
  ]
}
